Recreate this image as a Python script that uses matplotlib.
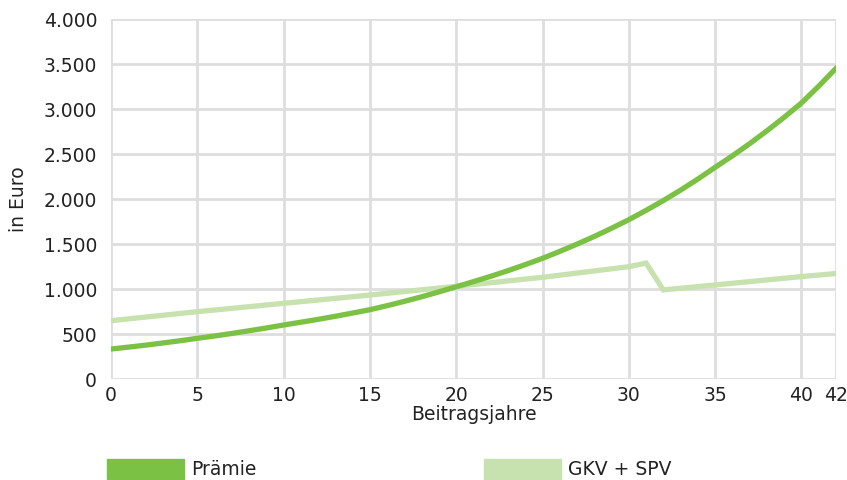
import matplotlib
matplotlib.use("Agg")
import matplotlib.pyplot as plt
import matplotlib.ticker as mticker
from matplotlib.patches import Patch

# Prämie per year
years = list(range(0, 43))
praemie = [333, 354, 376, 400, 425, 452, 478, 506, 536, 567,
           600, 631, 663, 697, 733, 770, 815, 863, 914, 968,
           1025, 1082, 1141, 1204, 1271, 1341, 1418, 1499, 1584, 1675,
           1770, 1874, 1983, 2099, 2222, 2352, 2480, 2615, 2758, 2908,
           3067, 3254, 3452]

# GKV + SPV (straight segments between these points)
gkv_years = [0, 5, 10, 15, 20, 25, 30, 31, 32, 35, 40, 42]
gkv = [648, 748, 841, 933, 1030, 1130, 1248, 1288, 990, 1045, 1138, 1172]

xticks = [0, 5, 10, 15, 20, 25, 30, 35, 40, 42]
yticks = [0, 500, 1000, 1500, 2000, 2500, 3000, 3500, 4000]

dark = "#7bc143"
light = "#c7e2ae"
grid_col = "#dedede"
txt = "#222222"
fs = 13.5

plt.rcParams['font.family'] = ['DejaVu Sans']

fig = plt.figure(figsize=(8.47, 4.8), dpi=100)
ax = fig.add_axes([0.131, 0.2104, 0.856, 0.750])

ax.plot(gkv_years, gkv, color=light, lw=3.8, solid_joinstyle='miter', zorder=3)
ax.plot(years, praemie, color=dark, lw=3.8, zorder=4)

ax.set_xlim(0, 42)
ax.set_ylim(0, 4000)
ax.set_xticks(xticks)
ax.set_yticks(yticks)
ax.yaxis.set_major_formatter(mticker.FuncFormatter(lambda v, p: f"{int(v):,}".replace(",", ".")))
ax.tick_params(length=0, labelsize=fs, colors=txt)
ax.tick_params(axis='y', pad=10)
ax.tick_params(axis='x', pad=5)
ax.grid(True, color=grid_col, lw=2)
ax.set_axisbelow(True)
for s in ax.spines.values():
    s.set_visible(False)

ax.set_xlabel("Beitragsjahre", fontsize=fs, color=txt, labelpad=0)
ax.set_ylabel("in Euro", fontsize=fs, color=txt)
ax.yaxis.set_label_coords(-0.115, 0.5)

for x0, color, label in [(107, dark, "Prämie"), (484, light, "GKV + SPV")]:
    fig.legend(handles=[Patch(color=color, label=label)], loc="lower left",
               bbox_to_anchor=(x0 / 847, 1 / 480), frameon=False, fontsize=fs,
               handlelength=4.1, handleheight=1.25, handletextpad=0.38,
               borderpad=0, borderaxespad=0, labelcolor=txt)

fig.savefig("out.png", dpi=100)
